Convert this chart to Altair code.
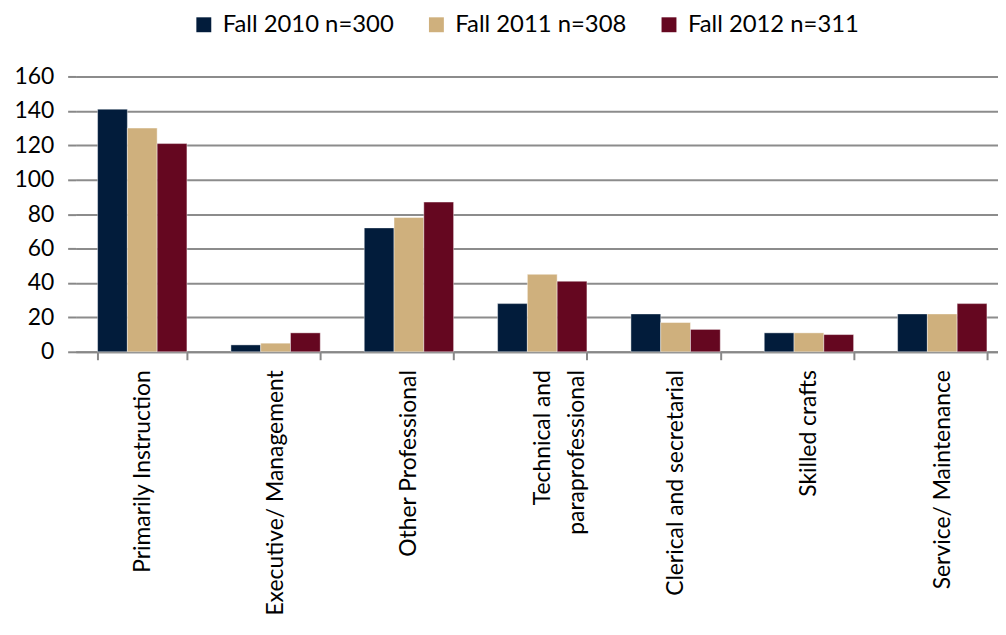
import altair as alt
import pandas as pd

categories = [
    "Primarily Instruction",
    "Executive/ Management",
    "Other Professional",
    "Technical and paraprofessional",
    "Clerical and secretarial",
    "Skilled crafts",
    "Service/ Maintenance",
]
series = ["Fall 2010 n=300", "Fall 2011 n=308", "Fall 2012 n=311"]
fall_2010 = [141, 4, 72, 28, 22, 11, 22]
fall_2011 = [130, 5, 78, 45, 17, 11, 22]
fall_2012 = [121, 11, 87, 41, 13, 10, 28]
colors = ["#021C3B", "#CFB07D", "#650720"]
y_ticks = [0, 20, 40, 60, 80, 100, 120, 140, 160]

rows = []
for s, vals in zip(series, [fall_2010, fall_2011, fall_2012]):
    for c, v in zip(categories, vals):
        rows.append({"category": c, "series": s, "value": v})
df = pd.DataFrame(rows)

FONT = "Lato"

label_expr = (
    "datum.label == 'Technical and paraprofessional' ? "
    "['Technical and', 'paraprofessional'] : datum.label"
)

chart = (
    alt.Chart(df)
    .mark_bar(stroke="#ffffff", strokeWidth=0.6, strokeOpacity=0.7)
    .encode(
        x=alt.X(
            "category:N",
            sort=categories,
            scale=alt.Scale(paddingInner=0.33, paddingOuter=0.165, range=[0, 939]),
            axis=alt.Axis(
                title=None,
                labelAngle=-90,
                labelAlign="right",
                labelBaseline="middle",
                labelExpr=label_expr,
                labelFont=FONT,
                labelFontSize=23,
                labelColor="#000000",
                labelPadding=10,
                labelLimit=400,
                labelLineHeight=35,
                tickBand="extent",
                tickSize=8,
                tickColor="#888888",
                tickWidth=2,
                domainColor="#888888",
                domainWidth=2,
                grid=False,
            ),
        ),
        xOffset=alt.XOffset(
            "series:N", sort=series, scale=alt.Scale(paddingInner=0, paddingOuter=0)
        ),
        y=alt.Y(
            "value:Q",
            scale=alt.Scale(domain=[0, 160], nice=False),
            axis=alt.Axis(
                title=None,
                values=y_ticks,
                domain=False,
                tickSize=8,
                tickColor="#888888",
                tickWidth=2,
                gridColor="#8c8c8c",
                gridWidth=2,
                labelFont=FONT,
                labelFontSize=23,
                labelColor="#000000",
                labelPadding=14,
            ),
        ),
        color=alt.Color(
            "series:N",
            sort=series,
            scale=alt.Scale(domain=series, range=colors),
            legend=alt.Legend(
                title=None,
                orient="none",
                legendX=117,
                legendY=-64,
                padding=0,
                direction="horizontal",
                symbolType="square",
                symbolSize=225,
                symbolStrokeWidth=0,
                labelFont=FONT,
                labelFontSize=24,
                labelColor="#000000",
                labelOffset=7,
                columnPadding=30,
                labelLimit=400,
            ),
        ),
    )
    .properties(
        width=928,
        height=277,
        autosize=alt.AutoSizeParams(type="none"),
        padding={"left": 68, "top": 67, "right": 0, "bottom": 273},
    )
    .configure_view(stroke=None)
)

chart.save("out.html", embed_options={"renderer": "svg", "actions": False})
